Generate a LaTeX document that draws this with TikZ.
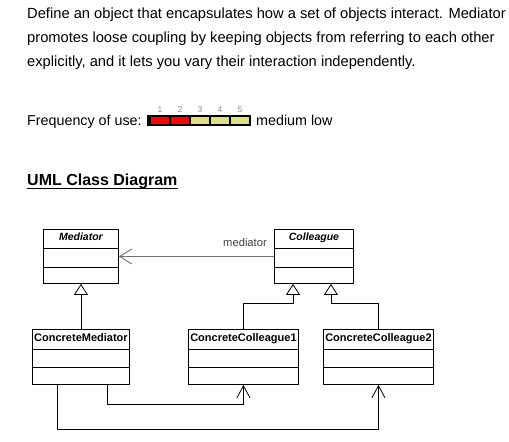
\documentclass[tikz,border=0pt]{standalone}
\usepackage{fontspec}
\setmainfont{Liberation Sans}
\usetikzlibrary{arrows.meta,calc}
\definecolor{barred}{HTML}{FF0000}
\definecolor{baryel}{HTML}{DEDE84}
\definecolor{linegray}{HTML}{707070}
\definecolor{labgray}{HTML}{404040}
\definecolor{numgray}{HTML}{8A8A8A}
\begin{document}
\begin{tikzpicture}[x=1pt,y=1pt,
  body/.style={font=\fontsize{14.7}{17}\selectfont, inner sep=0pt, anchor=base west},
  freqtext/.style={font=\fontsize{14.3}{17}\selectfont, inner sep=0pt, anchor=base west},
  cls/.style={draw=black, line width=0.9pt, inner sep=0pt, anchor=north west, fill=white},
  absname/.style={font=\fontsize{10.5}{12}\selectfont\bfseries\itshape, inner sep=0pt, anchor=base},
  cname/.style={font=\fontsize{11}{13}\selectfont\bfseries, inner sep=0pt, anchor=base},
  sep/.style={draw=black, line width=0.9pt},
  inh/.style={draw=black, line width=0.8pt, -{Triangle[open,length=11pt,width=14pt,fill=white,line width=0.8pt]}},
  dep/.style={draw=black, line width=0.8pt, -{Straight Barb[length=12pt,width=13pt,line width=0.8pt]}},
  assoc/.style={draw=linegray, line width=1pt, -{Straight Barb[length=12pt,width=15pt,line width=0.9pt]}},
  seg/.style={inner sep=0pt, minimum width=18pt, minimum height=7.3pt, anchor=north west},
  num/.style={font=\fontsize{8.5}{9}\selectfont, text=numgray, inner sep=0pt, anchor=base}
]
\useasboundingbox (0,0) rectangle (509,-442);
\fill[white] (0,0) rectangle (509,-442);

% paragraph
\node[body] (l1) at (27,-18.8) {Define an object that encapsulates how a set of objects interact. Mediator};
\node[body] (l2) at (27,-42.4) {promotes loose coupling by keeping objects from referring to each other};
\node[body] (l3) at (27,-66) {explicitly, and it lets you vary their interaction independently.};

% frequency of use
\node[freqtext] (freq) at (27,-125.5) {Frequency of use:};
\fill[black] (147,-115) rectangle (251,-125.8);
\node[seg, fill=barred] (s1) at (151,-116.7) {};
\node[seg, fill=barred] (s2) at (171,-116.7) {};
\node[seg, fill=baryel] (s3) at (191,-116.7) {};
\node[seg, fill=baryel] (s4) at (211,-116.7) {};
\node[seg, fill=baryel] (s5) at (231,-116.7) {};
\node[num] (n1) at (160,-112.5) {1};
\node[num] (n2) at (180,-112.5) {2};
\node[num] (n3) at (200,-112.5) {3};
\node[num] (n4) at (220,-112.5) {4};
\node[num] (n5) at (240,-112.5) {5};
\node[freqtext] (medlow) at (256,-125.5) {medium low};

% heading
\node[font=\fontsize{16}{19}\selectfont\bfseries, inner sep=0pt, anchor=base west] (head) at (27,-185.7) {UML Class Diagram};
\draw[line width=1.5pt] ($(head.base west)+(0,-3)$) -- ($(head.base east)+(0,-3)$);

% classes
\node[cls, minimum width=75pt, minimum height=54pt] (med) at (43,-229) {};
\node[cls, minimum width=79pt, minimum height=54pt] (coll) at (274,-229) {};
\node[cls, minimum width=97pt, minimum height=55pt] (cm) at (32,-329) {};
\node[cls, minimum width=110pt, minimum height=55pt] (cc1) at (188,-329) {};
\node[cls, minimum width=110pt, minimum height=55pt] (cc2) at (323,-329) {};

\foreach \b in {med,coll}{
  \draw[sep] ($(\b.north west)+(0,-19)$) -- ($(\b.north east)+(0,-19)$);
  \draw[sep] ($(\b.north west)+(0,-38)$) -- ($(\b.north east)+(0,-38)$);
}
\foreach \b in {cm,cc1,cc2}{
  \draw[sep] ($(\b.north west)+(0,-20)$) -- ($(\b.north east)+(0,-20)$);
  \draw[sep] ($(\b.north west)+(0,-38)$) -- ($(\b.north east)+(0,-38)$);
}

\node[absname] (medn) at ($(med.north)+(0,-11.5)$) {Mediator};
\node[absname] (colln) at ($(coll.north)+(0,-11.5)$) {Colleague};
\node[cname] (cmn) at ($(cm.north)+(0,-12.5)$) {ConcreteMediator};
\node[cname] (cc1n) at ($(cc1.north)+(0,-12.5)$) {ConcreteColleague1};
\node[cname] (cc2n) at ($(cc2.north)+(0,-12.5)$) {ConcreteColleague2};

% association
\draw[assoc] (coll.west) -- (med.east);
\node[font=\fontsize{11.2}{13}\selectfont, text=labgray, inner sep=0pt, anchor=base east] (lbl) at ($(coll.north west)+(-7,-17.7)$) {mediator};

% generalizations
\draw[inh] (cm.north) -- (med.south);
\coordinate (g1) at ($(coll.south west)+(19,0)$);
\coordinate (g2) at ($(coll.south east)+(-23,0)$);
\draw[inh] (cc1.north) |- ($(g1)+(0,-19)$) -- (g1);
\draw[inh] (cc2.north) |- ($(g2)+(0,-19)$) -- (g2);

% navigations from ConcreteMediator
\coordinate (d1) at ($(cm.south east)+(-23,0)$);
\coordinate (d2) at ($(cm.south west)+(25,0)$);
\draw[dep] (d1) |- ($(cc1.south)+(0,-19)$) -- (cc1.south);
\draw[dep] (d2) |- ($(cc2.south)+(0,-44)$) -- (cc2.south);
\end{tikzpicture}
\end{document}
